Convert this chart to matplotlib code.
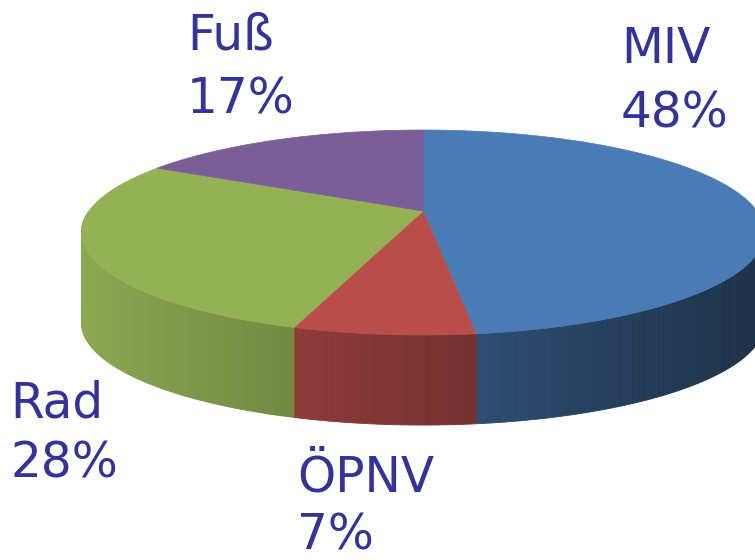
import numpy as np
import matplotlib
matplotlib.use('Agg')
import matplotlib.pyplot as plt
from matplotlib.patches import Polygon
from matplotlib.colors import to_rgb

# data
labels = ['MIV', 'ÖPNV', 'Rad', 'Fuß']
shares = [48, 7, 28, 17]
colors = ['#4a7bb5', '#b94d4a', '#95b156', '#7b5e98']

# label placement (x, baseline of name, baseline of percent) in pixels
label_pos = {
    'MIV': (621, 63, 127),
    'ÖPNV': (297, 491, 550),
    'Rad': (10, 417, 478),
    'Fuß': (187, 50, 113),
}

# pie geometry in pixel coordinates (slight perspective)
CX, CY = 423, 211
A, B, K = 334, 98, 0.21
DEPTH = 90


def proj(theta, drop=0.0):
    u = np.cos(theta)
    v = np.sin(theta)
    w = 1 + K * v
    return CX + A * u / w, CY - B * v / w + drop


def shade(x):
    # darker towards the right
    return np.clip(0.94 - (x - 84) * 0.54 / 671, 0.38, 1.0)


fig = plt.figure(figsize=(7.55, 5.6), dpi=100)
ax = fig.add_axes([0, 0, 1, 1])
ax.set_xlim(0, 755)
ax.set_ylim(560, 0)
ax.axis('off')

fracs = np.array(shares) / sum(shares)
cum = np.concatenate([[0], np.cumsum(fracs)])
starts = np.deg2rad(90 - 360 * cum[:-1])
ends = np.deg2rad(90 - 360 * cum[1:])

# side walls (front half only: -pi < theta < 0)
for t0, t1, col in zip(starts, ends, colors):
    lo = max(min(t0, t1), -np.pi)
    hi = min(max(t0, t1), 0.0)
    if hi <= lo:
        continue
    n = max(int(np.degrees(hi - lo)), 2)
    ts = np.linspace(lo, hi, n + 1)
    base = np.array(to_rgb(col))
    for a, b in zip(ts[:-1], ts[1:]):
        xa, ya = proj(a)
        xb, yb = proj(b)
        c = base * shade((xa + xb) / 2)
        quad = [(xa, ya), (xb, yb), (xb, yb + DEPTH), (xa, ya + DEPTH)]
        ax.add_patch(Polygon(quad, closed=True, facecolor=c, edgecolor=c,
                             linewidth=0.6))

# top surfaces
for t0, t1, col in zip(starts, ends, colors):
    ts = np.linspace(t0, t1, 200)
    xs, ys = proj(ts)
    pts = [(CX, CY)] + list(zip(xs, ys))
    ax.add_patch(Polygon(pts, closed=True, facecolor=col, edgecolor=col,
                         linewidth=0.5))

# labels
for lab, val in zip(labels, shares):
    x, y1, y2 = label_pos[lab]
    ax.text(x, y1, lab, fontsize=35, color='#333399', ha='left',
            va='baseline', family='DejaVu Sans')
    ax.text(x, y2, f'{val}%', fontsize=35, color='#333399', ha='left',
            va='baseline', family='DejaVu Sans')

fig.savefig('out.png', dpi=100)
